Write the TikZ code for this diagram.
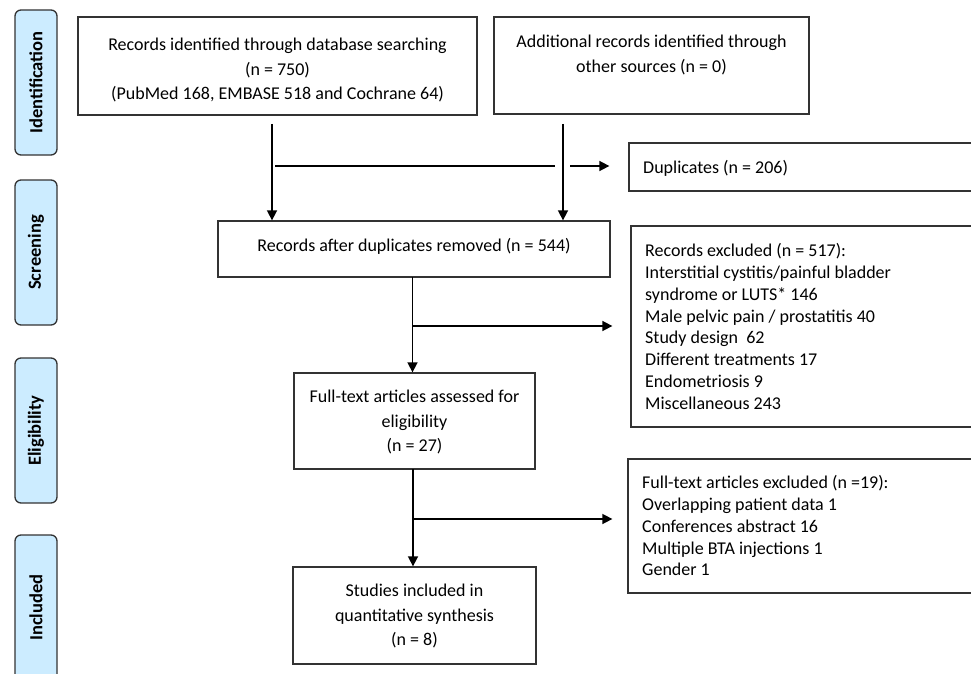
\documentclass[tikz,border=0pt]{standalone}
\usepackage{fontspec}
\setmainfont{Carlito}
\usetikzlibrary{arrows.meta}
\definecolor{phase}{RGB}{204,236,255}
\begin{document}
\begin{tikzpicture}[x=1pt,y=-1pt,
 box/.style={draw=black!80, line width=1.3pt, inner sep=0pt},
 txt/.style={font=\fontsize{18}{24.5}\selectfont, align=center, inner sep=0pt},
 ltxt/.style={font=\fontsize{18}{21.9}\selectfont, align=left, inner sep=0pt},
 phasebox/.style={draw=black!80, fill=phase, rounded corners=6pt, line width=1.3pt, minimum width=42pt, minimum height=145pt, inner sep=0pt},
 phasetxt/.style={font=\bfseries\fontsize{18.5}{20}\selectfont, rotate=90, inner sep=0pt},
 arr/.style={line width=1.6pt, -{Triangle[length=10pt,width=10pt]}},
 ln/.style={line width=1.6pt}]
\useasboundingbox (0,0) rectangle (971,674);
\clip (0,0) rectangle (971,674);
% phase labels
\node[phasebox] (p1) at (36,82.5) {};
\node[phasetxt] (p1t) at (p1) {Identification};
\node[phasebox] (p2) at (36,252.5) {};
\node[phasetxt] (p2t) at (p2) {Screening};
\node[phasebox] (p3) at (36,430.5) {};
\node[phasetxt] (p3t) at (p3) {Eligibility};
\node[phasebox] (p4) at (36,607.5) {};
\node[phasetxt] (p4t) at (p4) {Included};
% boxes
\node[box, minimum width=399pt, minimum height=98pt] (b1) at (277.5,66) {};
\node[txt] (b1t) at (277.5,70) {Records identified through database searching\\(n = 750)\\(PubMed 168, EMBASE 518 and Cochrane 64)};
\node[box, minimum width=315pt, minimum height=97pt] (b2) at (651.5,65.5) {};
\node[txt] (b2t) at (651.5,55) {Additional records identified through\\other sources (n = 0)};
\node[box, minimum width=351pt, minimum height=48pt] (dup) at (804.5,167) {};
\node[ltxt, anchor=west] (dupt) at (643,168) {Duplicates (n = 206)};
\node[box, minimum width=392pt, minimum height=56pt] (b3) at (414,249) {};
\node[txt] (b3t) at (414,246) {Records after duplicates removed (n = 544)};
\node[box, minimum width=349pt, minimum height=201pt] (rex) at (805.5,326.5) {};
\node[ltxt, anchor=north west] (rext) at (645,243) {Records excluded (n = 517):\\Interstitial cystitis/painful bladder\\syndrome or LUTS* 146\\Male pelvic pain / prostatitis 40\\Study design~ 62\\Different treatments 17\\Endometriosis 9\\Miscellaneous 243};
\node[box, minimum width=241pt, minimum height=96pt] (b4) at (414.5,421) {};
\node[txt] (b4t) at (414.5,422) {Full-text articles assessed for\\eligibility\\(n = 27)};
\node[box, minimum width=352pt, minimum height=134pt] (fex) at (804,526) {};
\node[ltxt, anchor=north west] (fext) at (642,475) {Full-text articles excluded (n =19):\\Overlapping patient data 1\\Conferences abstract 16\\Multiple BTA injections 1\\Gender 1};
\node[box, minimum width=243pt, minimum height=97pt] (b5) at (414.5,615.5) {};
\node[txt] (b5t) at (414.5,616) {Studies included in\\quantitative synthesis\\(n = 8)};
% connectors
\coordinate (a1) at (272,124);
\coordinate (a2) at (563,124);
\draw[arr] (a1) -- (a1 |- b3.north);
\draw[arr] (a2) -- (a2 |- b3.north);
\coordinate (h1) at (275,166);
\coordinate (h2) at (555,166);
\coordinate (h3) at (570,166);
\draw[ln] (h1) -- (h2);
\draw[arr] (h3) -- ([xshift=-19pt]dup.west |- h3);
\coordinate (c3) at (412.5,277);
\draw[arr] (c3) -- (c3 |- b4.north);
\coordinate (y1) at (0,326);
\draw[arr] (c3 |- y1) -- ([xshift=-18pt]rex.west |- y1);
\coordinate (c4) at (413,469);
\draw[arr] (c4) -- (c4 |- b5.north);
\coordinate (y2) at (0,519);
\draw[arr] (c4 |- y2) -- ([xshift=-15pt]fex.west |- y2);
\end{tikzpicture}
\end{document}
